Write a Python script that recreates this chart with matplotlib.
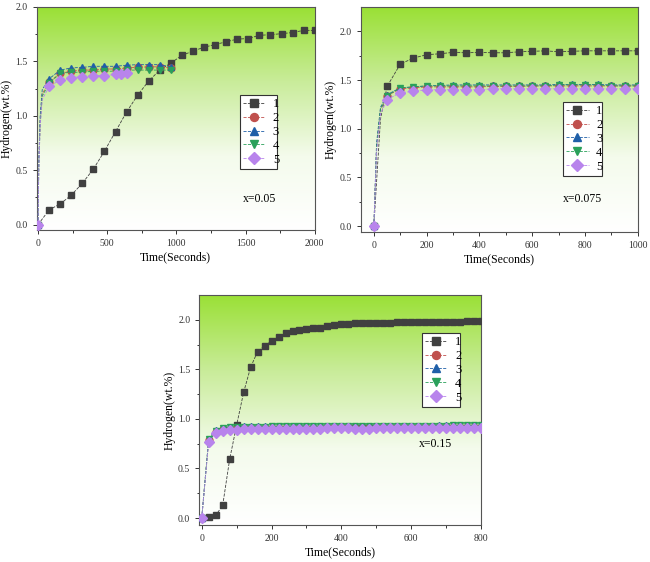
import numpy as np
import matplotlib.pyplot as plt
from matplotlib.colors import LinearSegmentedColormap

plt.rcParams['font.family'] = ['Liberation Serif', 'DejaVu Serif']

# ---- panel a: x=0.05 ----
a_t1 = [0, 80, 160, 240, 320, 400, 480, 560, 640, 720, 800, 880, 960, 1040,
        1120, 1200, 1280, 1360, 1440, 1520, 1600, 1680, 1760, 1840, 1920, 2000]
a_h1 = [0.0, 0.135, 0.19, 0.27, 0.38, 0.51, 0.675, 0.855, 1.035, 1.19, 1.32,
        1.42, 1.485, 1.555, 1.595, 1.63, 1.655, 1.68, 1.705, 1.71, 1.74,
        1.745, 1.755, 1.765, 1.785, 1.785]
a_t = [0, 5, 15, 30, 80, 160, 240, 320, 400, 480, 560, 640, 720, 800, 880, 960]
a_h2 = [0.0, 0.55, 0.95, 1.2, 1.31, 1.39, 1.41, 1.42, 1.42, 1.43, 1.43, 1.44,
        1.445, 1.45, 1.45, 1.44]
a_h3 = [0.0, 0.6, 1.0, 1.24, 1.34, 1.42, 1.44, 1.445, 1.455, 1.455, 1.455,
        1.465, 1.47, 1.47, 1.47, 1.45]
a_h4 = [0.0, 0.5, 0.92, 1.18, 1.30, 1.39, 1.40, 1.40, 1.41, 1.41, 1.41,
        1.42, 1.42, 1.42, 1.42, 1.42]
a_t5 = [0, 5, 15, 30, 80, 160, 240, 320, 400, 480, 560, 600, 640]
a_h5 = [0.0, 0.5, 0.9, 1.15, 1.27, 1.33, 1.35, 1.36, 1.37, 1.37, 1.38, 1.38,
        1.39]

# ---- panel b: x=0.075 ----
b_t1 = [0, 10, 25, 50, 100, 150, 200, 250, 300, 350, 400, 450, 500, 550, 600,
        650, 700, 750, 800, 850, 900, 950, 1000]
b_h1 = [0.0, 0.45, 1.1, 1.434, 1.664, 1.726, 1.76, 1.77, 1.784, 1.78, 1.784,
        1.78, 1.78, 1.79, 1.795, 1.80, 1.79, 1.795, 1.80, 1.80, 1.80, 1.80,
        1.80]
b_h2 = [0.0, 0.8, 1.2, 1.34, 1.41, 1.42, 1.43, 1.43, 1.43, 1.43, 1.43, 1.435,
        1.435, 1.435, 1.44, 1.44, 1.44, 1.44, 1.44, 1.44, 1.44, 1.44, 1.44]
b_h3 = [0.0, 0.85, 1.22, 1.35, 1.42, 1.43, 1.44, 1.445, 1.45, 1.45, 1.45,
        1.45, 1.45, 1.45, 1.45, 1.45, 1.455, 1.455, 1.455, 1.455, 1.45, 1.45,
        1.45]
b_h4 = [0.0, 0.8, 1.2, 1.34, 1.42, 1.43, 1.44, 1.44, 1.44, 1.44, 1.44, 1.44,
        1.44, 1.44, 1.44, 1.44, 1.45, 1.45, 1.45, 1.45, 1.44, 1.44, 1.44]
b_h5 = [0.0, 0.75, 1.15, 1.30, 1.37, 1.385, 1.40, 1.40, 1.40, 1.40, 1.40,
        1.41, 1.41, 1.41, 1.41, 1.41, 1.41, 1.41, 1.41, 1.41, 1.41, 1.41,
        1.41]

# ---- panel c: x=0.15 ----
c_t = list(range(0, 801, 20))
c_h1 = [0.0, 0.01, 0.027, 0.128, 0.594, 0.938, 1.268, 1.521, 1.68, 1.737,
        1.791, 1.831, 1.868, 1.889, 1.899, 1.912, 1.922, 1.916, 1.939, 1.946,
        1.956, 1.956, 1.966, 1.966, 1.966, 1.966, 1.966, 1.966, 1.973, 1.973,
        1.973, 1.973, 1.973, 1.98, 1.98, 1.98, 1.98, 1.98, 1.986, 1.986,
        1.986]
c_h2 = [0.0, 0.79, 0.87, 0.895, 0.90, 0.905, 0.905, 0.91, 0.91, 0.91, 0.91,
        0.91, 0.91, 0.91, 0.91, 0.91, 0.91, 0.91, 0.915, 0.915, 0.915, 0.915,
        0.915, 0.915, 0.915, 0.915, 0.915, 0.915, 0.915, 0.915, 0.915, 0.915,
        0.915, 0.915, 0.915, 0.915, 0.915, 0.915, 0.915, 0.915, 0.915]
c_h3 = [0.0, 0.80, 0.89, 0.91, 0.92, 0.92, 0.925, 0.925, 0.925, 0.925, 0.925,
        0.925, 0.925, 0.93, 0.93, 0.93, 0.93, 0.93, 0.93, 0.93, 0.93, 0.93,
        0.93, 0.93, 0.93, 0.93, 0.93, 0.93, 0.93, 0.93, 0.93, 0.93, 0.93,
        0.93, 0.935, 0.935, 0.935, 0.935, 0.935, 0.935, 0.935]
c_h4 = [0.0, 0.80, 0.88, 0.91, 0.915, 0.92, 0.92, 0.92, 0.92, 0.92, 0.925,
        0.925, 0.925, 0.925, 0.925, 0.925, 0.925, 0.925, 0.925, 0.925, 0.925,
        0.925, 0.925, 0.925, 0.925, 0.93, 0.93, 0.93, 0.93, 0.93, 0.93, 0.93,
        0.93, 0.93, 0.93, 0.93, 0.935, 0.935, 0.935, 0.935, 0.935]
c_h5 = [0.0, 0.77, 0.853, 0.88, 0.89, 0.89, 0.895, 0.895, 0.895, 0.895, 0.895,
        0.895, 0.895, 0.895, 0.895, 0.90, 0.90, 0.90, 0.905, 0.905, 0.905,
        0.905, 0.90, 0.90, 0.90, 0.905, 0.905, 0.905, 0.905, 0.905, 0.905,
        0.91, 0.91, 0.91, 0.91, 0.91, 0.91, 0.91, 0.91, 0.91, 0.91]

labels = ['1', '2', '3', '4', '5']
colors = ['#404040', '#c0504d', '#1f5fa8', '#2aa05a', '#b884ec']
markers = ['s', 'o', '^', 'v', 'D']

green_bg = LinearSegmentedColormap.from_list(
    'bg', ['#ffffff', '#f4fbec', '#c9ec9a', '#9ae035'])


def style_axes(ax, xlim, ylim, xticks, yticks, xminor, yminor):
    # gradient background: lime at the top, white at the bottom
    ax.imshow(np.linspace(1, 0, 256).reshape(-1, 1), cmap=green_bg,
              aspect='auto', extent=[0, 1, 0, 1], transform=ax.transAxes,
              zorder=0, vmin=0, vmax=1)
    ax.set_xlim(xlim)
    ax.set_ylim(ylim)
    ax.set_xticks(xticks)
    ax.set_yticks(yticks)
    ax.set_xticks(xminor, minor=True)
    ax.set_yticks(yminor, minor=True)
    ax.set_yticklabels([f'{v:.1f}' for v in yticks])
    ax.tick_params(which='both', direction='out', labelsize=7,
                   colors='#333333', width=0.7)
    ax.tick_params(which='major', length=3)
    ax.tick_params(which='minor', length=1.8)
    for s in ax.spines.values():
        s.set_color('#555555')
        s.set_linewidth(0.8)
    ax.set_xlabel('Time(Seconds)', fontsize=8.5, labelpad=2)
    ax.set_ylabel('Hydrogen(wt.%)', fontsize=8.5, labelpad=2)


def draw(ax, series, markevery_list):
    for (t, h), lab, col, mk, me in zip(series, labels, colors, markers,
                                        markevery_list):
        ax.plot(t, h, color=col, lw=0.6, ls='--', marker=mk, ms=5,
                markevery=me, label=lab, zorder=3)


fig = plt.figure(figsize=(6.5, 5.62), dpi=100)

# panel a
ax1 = fig.add_axes([36.7 / 650, 1 - 230 / 562, 278 / 650, 223 / 562])
style_axes(ax1, (-10, 2000), (-0.05, 2.0), [0, 500, 1000, 1500, 2000],
           [0.0, 0.5, 1.0, 1.5, 2.0], np.arange(250, 2000, 500),
           np.arange(0.25, 2.0, 0.5))
me_a = [0] + list(range(4, len(a_t)))
draw(ax1, [(a_t1, a_h1), (a_t, a_h2), (a_t, a_h3), (a_t, a_h4),
           (a_t5, a_h5)],
     [None, me_a, me_a, me_a, [0] + list(range(4, len(a_t5)))])
ax1.text(0.74, 0.125, 'x=0.05', transform=ax1.transAxes, fontsize=8.5)

# panel b
ax2 = fig.add_axes([360.7 / 650, 1 - 232 / 562, 277 / 650, 225 / 562])
style_axes(ax2, (-50, 1000), (-0.06, 2.25), [0, 200, 400, 600, 800, 1000],
           [0.0, 0.5, 1.0, 1.5, 2.0], np.arange(100, 1000, 200),
           np.arange(0.25, 2.25, 0.5))
me_b = [0] + list(range(3, len(b_t1)))
draw(ax2, [(b_t1, b_h1), (b_t1, b_h2), (b_t1, b_h3), (b_t1, b_h4),
           (b_t1, b_h5)], [me_b] * 5)
ax2.text(0.73, 0.133, 'x=0.075', transform=ax2.transAxes, fontsize=8.5)

# panel c
ax3 = fig.add_axes([199.3 / 650, 1 - 525 / 562, 281.7 / 650, 230 / 562])
style_axes(ax3, (-7, 800), (-0.07, 2.25), [0, 200, 400, 600, 800],
           [0.0, 0.5, 1.0, 1.5, 2.0], np.arange(100, 800, 200),
           np.arange(0.25, 2.25, 0.5))
draw(ax3, [(c_t, c_h1), (c_t, c_h2), (c_t, c_h3), (c_t, c_h4),
           (c_t, c_h5)], [None] * 5)
ax3.text(0.78, 0.34, 'x=0.15', transform=ax3.transAxes, fontsize=8.5)

legend_boxes = [(ax1, (0.73, 0.278, 0.135, 0.327)),
                (ax2, (0.73, 0.24, 0.14, 0.338)),
                (ax3, (0.79, 0.51, 0.135, 0.325))]
for ax, box in legend_boxes:
    leg = ax.legend(loc='upper left', bbox_to_anchor=box, mode='expand',
                    fontsize=9, frameon=True, fancybox=False,
                    borderpad=0.25, labelspacing=0.15, handlelength=1.8,
                    handletextpad=0.6, borderaxespad=0, markerscale=1.15)
    leg.get_frame().set_edgecolor('#333333')
    leg.get_frame().set_linewidth(0.8)
    leg.get_frame().set_facecolor('white')
    leg.get_frame().set_alpha(1)
    leg.set_zorder(5)

fig.savefig('out.png', dpi=100)
